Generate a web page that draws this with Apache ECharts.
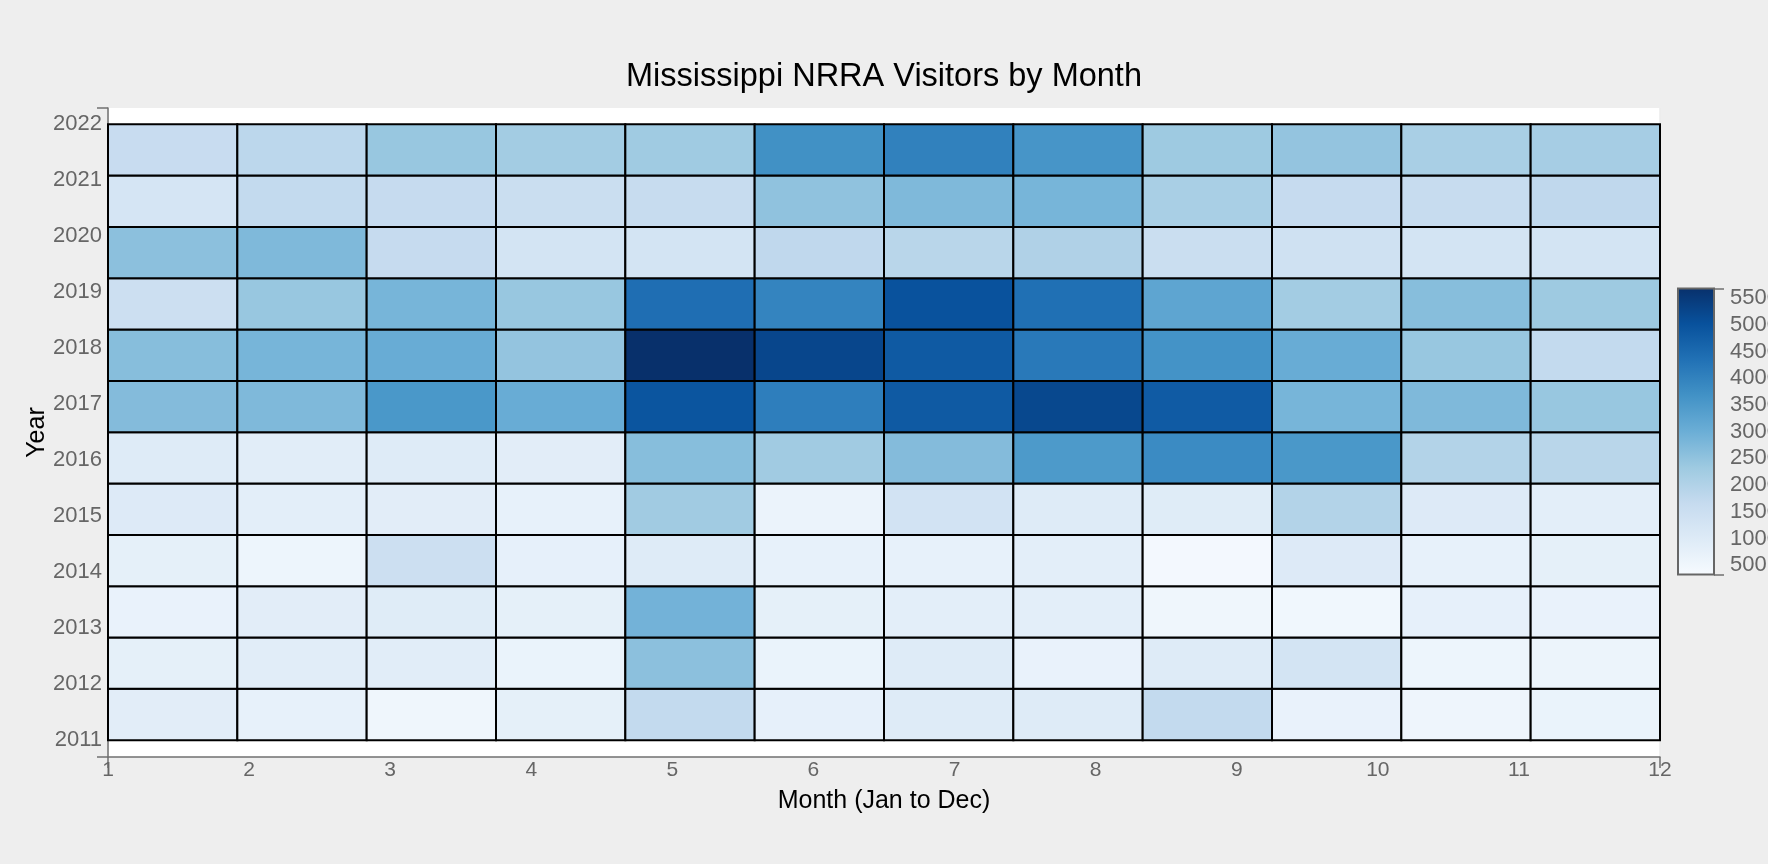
<!DOCTYPE html>
<html>
<head>
<meta charset="utf-8">
<script src="https://cdn.jsdelivr.net/npm/echarts@6/dist/echarts.min.js"></script>
<style>
html,body{margin:0;padding:0;background:#eeeeee;}
#chart{width:1768px;height:864px;}
</style>
</head>
<body>
<div id="chart"></div>
<script>
const months = [1,2,3,4,5,6,7,8,9,10,11,12];
const years = [2011,2012,2013,2014,2015,2016,2017,2018,2019,2020,2021,2022];
const xTickLabels = ['1','2','3','4','5','6','7','8','9','10','11','12'];
const colorbarTicks = [500,1000,1500,2000,2500,3000,3500,4000,4500,5000,5500];

// visitors per month (Jan..Dec) for each year
const v2011 = [890,750,540,805,1720,780,995,995,1720,700,565,675];
const v2012 = [805,915,915,675,2575,675,995,700,995,1290,590,620];
const v2013 = [700,890,965,805,2895,805,860,860,540,510,780,700];
const v2014 = [805,590,1500,780,995,750,750,860,430,1020,750,805];
const v2015 = [1020,860,890,750,2280,645,1340,995,965,1985,1020,860];
const v2016 = [995,915,995,890,2630,2280,2680,3485,3805,3540,1985,1880];
const v2017 = [2680,2735,3540,3055,4930,4075,4820,5200,4795,2840,2735,2415];
const v2018 = [2630,2840,3055,2470,5680,5225,4820,4180,3645,3055,2415,1720];
const v2019 = [1500,2415,2840,2415,4395,3965,4985,4370,3215,2250,2630,2330];
const v2020 = [2575,2735,1665,1290,1290,1770,1880,2040,1555,1400,1290,1290];
const v2021 = [1235,1720,1665,1555,1640,2520,2735,2840,2150,1665,1640,1770];
const v2022 = [1610,1825,2410,2250,2305,3700,4020,3590,2330,2470,2150,2200];
const rows = [v2011,v2012,v2013,v2014,v2015,v2016,v2017,v2018,v2019,v2020,v2021,v2022];

const colorMin = 325, colorMax = 5680;
const blues = ['#f7fbff','#deebf7','#c6dbef','#9ecae1','#6baed6','#4292c6','#2171b5','#08519c','#08306b'];

const cells = [];
rows.forEach((r, yi) => r.forEach((v, mi) => cells.push([mi, yi, v])));

const xLo = months[0], xHi = months[months.length-1];
const yLo = years[0], yHi = years[years.length-1];
const nX = months.length, nY = years.length;
const FONT = 'Liberation Sans, Arial, sans-serif';

const chart = echarts.init(document.getElementById('chart'));
chart.setOption({
  backgroundColor: '#eeeeee',
  animation: false,
  title: {
    text: 'Mississippi NRRA Visitors by Month',
    left: 'center', top: 56,
    textStyle: {fontFamily: FONT, fontSize: 32.5, fontWeight: 'normal', color: '#000'}
  },
  grid: [
    {left: 108, top: 108, width: 1552, height: 649, show: true, backgroundColor: '#ffffff', borderWidth: 0, containLabel: false, outerBoundsMode: 'none'},
    {left: 1678, top: 288.5, width: 36, height: 286, show: false, containLabel: false, outerBoundsMode: 'none'}
  ],
  xAxis: [
    {
      type: 'value', gridIndex: 0, min: 1, max: 12, interval: 1,
      name: 'Month (Jan to Dec)', nameLocation: 'middle', nameGap: 32, nameMoveOverlap: false,
      nameTextStyle: {fontFamily: FONT, fontSize: 25, color: '#000'},
      axisLine: {show: true, onZero: false, lineStyle: {color: '#707070', width: 1.5}},
      axisTick: {show: true, length: 11, customValues: [1, 12], lineStyle: {color: '#707070', width: 1.5}},
      axisLabel: {
        color: '#666', fontSize: 21, margin: 3, fontFamily: FONT,
        formatter: v => xTickLabels[months.indexOf(v)] || ''
      },
      splitLine: {show: true, lineStyle: {color: '#ebebeb', width: 1.5}}
    },
    {type: 'value', gridIndex: 1, min: 0, max: 1, show: false}
  ],
  yAxis: [
    {
      type: 'value', gridIndex: 0, min: 2010.70, max: 2022.29,
      name: 'Year', nameLocation: 'middle', nameGap: 58, nameMoveOverlap: false,
      nameTextStyle: {fontFamily: FONT, fontSize: 25, color: '#000'},
      axisLine: {show: true, onZero: false, lineStyle: {color: '#707070', width: 1.5}},
      axisTick: {show: true, length: 11, customValues: [2010.70, 2022.29], lineStyle: {color: '#707070', width: 1.5}},
      axisLabel: {
        color: '#666', fontSize: 22, margin: 6, fontFamily: FONT,
        customValues: years, formatter: v => String(Math.round(v))
      },
      splitLine: {show: false}
    },
    {
      type: 'value', gridIndex: 1, min: colorMin, max: colorMax, position: 'right',
      axisLine: {show: true, onZero: false, lineStyle: {color: '#707070', width: 1.5}},
      axisTick: {show: true, length: 10, customValues: [colorMin, colorMax], lineStyle: {color: '#707070', width: 1.5}},
      axisLabel: {
        color: '#666', fontSize: 22, margin: 16, fontFamily: FONT,
        customValues: colorbarTicks, formatter: v => String(v)
      },
      splitLine: {show: false}
    }
  ],
  visualMap: {
    show: false, type: 'continuous', seriesIndex: 0, dimension: 2,
    min: colorMin, max: colorMax, inRange: {color: blues}
  },
  series: [
    {
      type: 'custom', xAxisIndex: 0, yAxisIndex: 0,
      data: cells,
      encode: {x: -1, y: -1},
      renderItem: function (params, api) {
        const mi = api.value(0), yi = api.value(1);
        const xw = (xHi - xLo) / nX, yw = (yHi - yLo) / nY;
        const p0 = api.coord([xLo + mi * xw, yLo + (yi + 1) * yw]);
        const p1 = api.coord([xLo + (mi + 1) * xw, yLo + yi * yw]);
        return {
          type: 'rect',
          shape: {x: p0[0], y: p0[1], width: p1[0] - p0[0], height: p1[1] - p0[1]},
          style: {fill: api.visual('color'), stroke: '#000', lineWidth: 2}
        };
      }
    },
    {
      type: 'custom', xAxisIndex: 1, yAxisIndex: 1,
      data: [[0, colorMin, colorMax]],
      encode: {x: -1, y: -1},
      renderItem: function (params, api) {
        const p0 = api.coord([0, api.value(2)]);
        const p1 = api.coord([1, api.value(1)]);
        const stops = blues.slice().reverse().map((c, i) => ({offset: i / (blues.length - 1), color: c}));
        return {
          type: 'rect',
          shape: {x: p0[0], y: p0[1], width: p1[0] - p0[0], height: p1[1] - p0[1]},
          style: {
            fill: new echarts.graphic.LinearGradient(0, 0, 0, 1, stops),
            stroke: '#666', lineWidth: 2
          }
        };
      }
    }
  ]
});
</script>
</body>
</html>
